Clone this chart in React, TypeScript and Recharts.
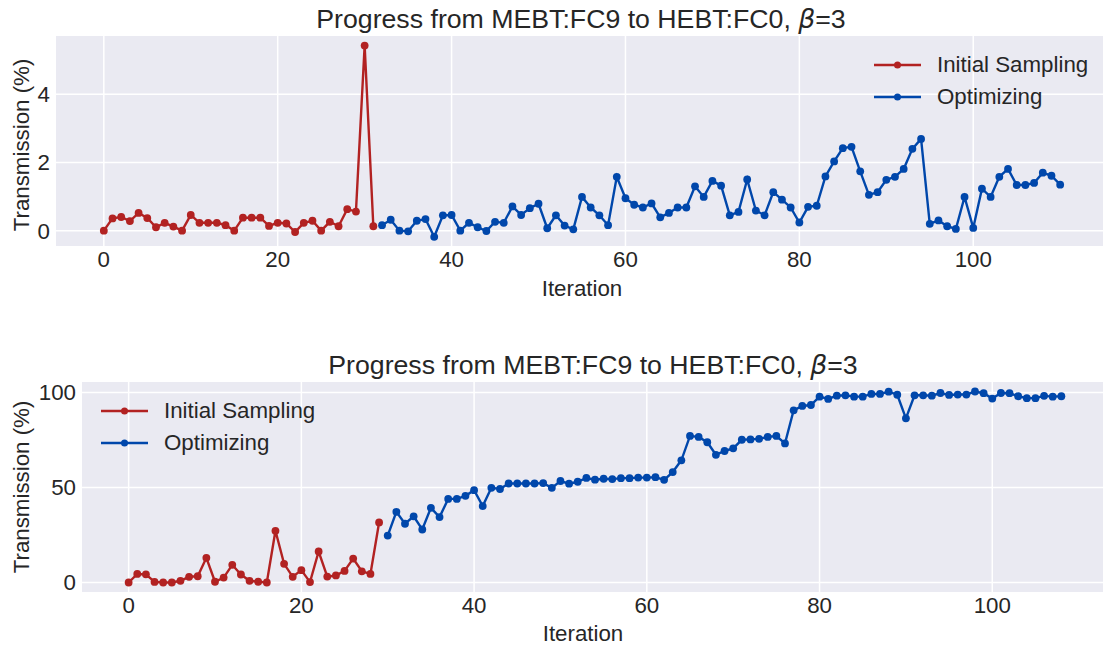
import React from 'react';
import { LineChart, Line, XAxis, YAxis, CartesianGrid } from 'recharts';

// Transmission (%) per iteration
const topRed = [
  0, 0.36, 0.4, 0.28, 0.52, 0.37, 0.1, 0.23, 0.12, 0, 0.46, 0.23, 0.23, 0.23, 0.16, 0,
  0.38, 0.38, 0.38, 0.14, 0.23, 0.21, -0.04, 0.23, 0.29, 0, 0.26, 0.13, 0.63, 0.56, 5.43, 0.13,
];
const topBlue = [
  0.16, 0.32, 0, -0.02, 0.29, 0.34, -0.18, 0.45, 0.46, 0, 0.23, 0.1, -0.01, 0.26, 0.23, 0.71,
  0.46, 0.66, 0.79, 0.07, 0.45, 0.15, 0.04, 0.99, 0.68, 0.45, 0.16, 1.58, 0.95, 0.76, 0.68, 0.8,
  0.39, 0.52, 0.68, 0.68, 1.3, 0.99, 1.46, 1.32, 0.45, 0.55, 1.5, 0.59, 0.45, 1.13, 0.91, 0.68,
  0.24, 0.7, 0.73, 1.59, 2.03, 2.42, 2.46, 1.74, 1.05, 1.13, 1.49, 1.58, 1.81, 2.4, 2.69, 0.2,
  0.3, 0.13, 0.05, 0.99, 0.08, 1.23, 0.99, 1.58, 1.81, 1.34, 1.34, 1.4, 1.7, 1.61, 1.35,
];
const bottomRed = [
  0, 4.5, 4.3, 0.3, 0, 0, 0.9, 3.0, 3.3, 13.0, 0.4, 2.6, 9.3, 4.2, 0.9, 0.4, 0, 27.2, 9.8, 3.0,
  6.5, 0.2, 16.3, 3.1, 3.7, 6.1, 12.6, 5.9, 4.5, 31.6,
];
const bottomBlue = [
  24.7, 37.2, 30.9, 34.8, 27.9, 39.3, 34.4, 44.0, 44.0, 45.6,
  48.6, 40.2, 49.8, 49.2, 52.1, 52.1, 52.1, 52.1, 52.3, 49.8,
  53.4, 52.0, 53.0, 55.0, 54.1, 54.6, 54.4, 54.9, 54.9, 55.2,
  55.2, 55.4, 54.0, 58.1, 64.3, 77.1, 76.6, 73.8, 67.2, 69.2,
  70.6, 75.1, 75.3, 75.6, 76.6, 77.1, 73.2, 90.6, 92.9, 93.4,
  97.8, 96.6, 98.3, 98.5, 97.8, 97.8, 99.2, 99.2, 100.4, 98.8,
  86.4, 98.5, 98.5, 98.3, 99.7, 98.7, 98.9, 98.9, 100.5, 99.6,
  96.8, 99.7, 99.6, 98.0, 97.0, 97.0, 98.2, 97.8, 98.0,
];

const xTicks = [0, 20, 40, 60, 80, 100];
const topYTicks = [0, 2, 4];
const bottomYTicks = [0, 50, 100];
const seriesNames = ['Initial Sampling', 'Optimizing'];
const colors = ['#b22222', '#0047ab'];

const toPoints = (values: number[], start: number) =>
  values.map((v, i) => ({ iter: start + i, value: v }));

const FONT = '"Liberation Sans", Arial, sans-serif';
const TEXT = '#262626';
const FS = 22.3;
const tickStyle = { fill: TEXT, fontSize: FS, fontFamily: FONT };

const Title = ({ center, top }: { center: number; top: number }) => (
  <div
    style={{
      position: 'absolute', left: center - 400, width: 800, top, lineHeight: '30px',
      textAlign: 'center', fontSize: 26.7, color: TEXT, fontFamily: FONT, whiteSpace: 'nowrap',
    }}
  >
    Progress from MEBT:FC9 to HEBT:FC0, <i style={{ fontFamily: '"DejaVu Sans"' }}>β</i>=3
  </div>
);

const AxisText = ({ x, y, text, rotate }: { x: number; y: number; text: string; rotate?: boolean }) => (
  <div
    style={{
      position: 'absolute', left: x - 150, top: y - 15, width: 300, lineHeight: '30px',
      textAlign: 'center', fontSize: FS, color: TEXT, fontFamily: FONT,
      transform: rotate ? 'rotate(-90deg)' : undefined,
    }}
  >
    {text}
  </div>
);

const LegendBox = ({ left, top }: { left: number; top: number }) => (
  <div style={{ position: 'absolute', left, top, fontFamily: FONT }}>
    {seriesNames.map((name, i) => (
      <div key={name} style={{ display: 'flex', alignItems: 'center', height: 32.6 }}>
        <svg width={47} height={10}>
          <line x1={0} y1={5} x2={47} y2={5} stroke={colors[i]} strokeWidth={2.4} />
          <circle cx={23.5} cy={5} r={3.5} fill={colors[i]} />
        </svg>
        <span style={{ marginLeft: 16, fontSize: FS, color: TEXT }}>{name}</span>
      </div>
    ))}
  </div>
);

const Panel = ({
  red, blue, yTicks, xDomain, yDomain, yWidth, top, height, marginTop,
}: {
  red: number[]; blue: number[]; yTicks: number[]; xDomain: [number, number];
  yDomain: [number, number]; yWidth: number; top: number; height: number; marginTop: number;
}) => (
  <div style={{ position: 'absolute', left: 0, top }}>
    <LineChart width={1108} height={height} margin={{ top: marginTop, right: 0, bottom: 0, left: 0 }}>
      <CartesianGrid fill="#eaeaf2" fillOpacity={1} stroke="#ffffff" strokeWidth={1.5}
        horizontalValues={yTicks} verticalValues={xTicks} />
      <XAxis dataKey="iter" type="number" domain={xDomain} ticks={xTicks} allowDataOverflow
        axisLine={false} tickLine={false} tickSize={0} tickMargin={5} tick={tickStyle}
        height={height - marginTop - 210} />
      <YAxis dataKey="value" type="number" domain={yDomain} ticks={yTicks} allowDataOverflow
        axisLine={false} tickLine={false} tickSize={0} tickMargin={6} tick={tickStyle}
        width={yWidth} />
      <Line data={toPoints(red, 0)} dataKey="value" stroke={colors[0]} strokeWidth={2.4}
        dot={{ r: 3.9, fill: colors[0], stroke: colors[0], strokeWidth: 0 }} activeDot={false}
        isAnimationActive={false} name={seriesNames[0]} />
      <Line data={toPoints(blue, red.length)} dataKey="value" stroke={colors[1]} strokeWidth={2.4}
        dot={{ r: 3.9, fill: colors[1], stroke: colors[1], strokeWidth: 0 }} activeDot={false}
        isAnimationActive={false} name={seriesNames[1]} />
    </LineChart>
  </div>
);

export default function App() {
  return (
    <div style={{ position: 'absolute', left: 0, top: 0, width: 1103, height: 649, overflow: 'hidden', background: '#fff' }}>
      <Panel red={topRed} blue={topBlue} yTicks={topYTicks} xDomain={[-5.5, 115.5]}
        yDomain={[-0.45, 5.71]} yWidth={56} top={0} height={300} marginTop={36} />
      <Panel red={bottomRed} blue={bottomBlue} yTicks={bottomYTicks} xDomain={[-5.4, 113.4]}
        yDomain={[-5, 105.5]} yWidth={82} top={330} height={319} marginTop={52} />
      <Title center={581} top={4} />
      <Title center={593} top={350} />
      <AxisText x={582} y={289} text="Iteration" />
      <AxisText x={583} y={634} text="Iteration" />
      <AxisText x={22} y={145} text="Transmission (%)" rotate />
      <AxisText x={22} y={487} text="Transmission (%)" rotate />
      <LegendBox left={874} top={48.4} />
      <LegendBox left={101} top={394.4} />
    </div>
  );
}
